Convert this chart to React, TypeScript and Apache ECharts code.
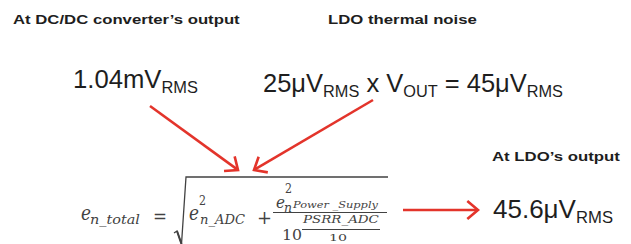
import React, { useEffect, useRef } from 'react';
import * as echarts from 'echarts';

// ---- content ----
const HEADERS = ['At DC/DC converter’s output', 'LDO thermal noise', 'At LDO’s output'];
const DCDC_NOISE: [string, 'main' | 'sub'][] = [['1.04mV', 'main'], ['RMS', 'sub']];
const LDO_NOISE: [string, 'main' | 'sub'][] = [
  ['25μV', 'main'], ['RMS', 'sub'], [' x V', 'main'], ['OUT', 'sub'], [' = 45μV', 'main'], ['RMS', 'sub'],
];
const LDO_OUTPUT: [string, 'main' | 'sub'][] = [['45.6μV', 'main'], ['RMS', 'sub']];
const FORMULA_PARTS = ['e', 'n_total', '=', 'e', '2', 'n_ADC', '+', 'e', '2', 'n', 'Power _Supply', '10', 'PSRR_ADC', '10'];

const RED = '#e3342b';
const INK = '#1e1e1e';
const MATH = '#424242';
const SANS = 'Liberation Sans';
const SERIF = 'DejaVu Serif';

const canvas = typeof document !== 'undefined' ? document.createElement('canvas') : null;
const ctx = canvas ? canvas.getContext('2d') : null;
function measure(text: string, font: string) {
  if (!ctx) return text.length * 8;
  ctx.font = font;
  return ctx.measureText(text).width;
}

type TOpts = { family?: string; weight?: string; style?: string; fill?: string; width?: number };
function txt(text: string, x: number, baseline: number, size: number, o: TOpts = {}) {
  const family = o.family || SANS;
  const weight = o.weight || 'normal';
  const fstyle = o.style || 'normal';
  const font = `${fstyle} ${weight} ${size}px "${family}"`;
  const w = measure(text, font);
  const sx = o.width ? o.width / w : 1;
  return {
    type: 'text',
    x,
    y: baseline - 0.35 * size,
    scaleX: sx,
    style: {
      text,
      fontSize: size,
      fontFamily: family,
      fontWeight: weight,
      fontStyle: fstyle,
      fill: o.fill || INK,
      align: 'left',
      verticalAlign: 'middle',
    },
  };
}

function expr(segs: [string, 'main' | 'sub'][], x: number, baseline: number, targetW: number) {
  const MAIN = 25, SUB = 16;
  const widths = segs.map(([t, k]) => measure(t, `normal normal ${k === 'main' ? MAIN : SUB}px "${SANS}"`));
  const total = widths.reduce((a, b) => a + b, 0);
  const s = targetW / total;
  let cx = x;
  return segs.map(([t, k], i) => {
    const el = txt(t, cx, k === 'main' ? baseline : baseline + 5, k === 'main' ? MAIN : SUB, {
      width: widths[i] * s,
    });
    cx += widths[i] * s;
    return el;
  });
}

function arrow(x1: number, y1: number, x2: number, y2: number) {
  const a = Math.atan2(y2 - y1, x2 - x1);
  const L = 14, t = 0.7;
  const p1 = [x2 - L * Math.cos(a - t), y2 - L * Math.sin(a - t)];
  const p2 = [x2 - L * Math.cos(a + t), y2 - L * Math.sin(a + t)];
  return [
    { type: 'line', shape: { x1, y1, x2: x2 - Math.cos(a), y2: y2 - Math.sin(a) }, style: { stroke: RED, lineWidth: 2.6 } },
    { type: 'polyline', shape: { points: [p1, [x2, y2], p2] }, style: { stroke: RED, lineWidth: 2.6, fill: 'none' } },
  ];
}

function buildElements() {
  const els: any[] = [];
  // headers
  els.push(txt(HEADERS[0], 13, 24, 13, { weight: 'bold', width: 227 }));
  els.push(txt(HEADERS[1], 328, 24, 13, { weight: 'bold', width: 149 }));
  els.push(txt(HEADERS[2], 492, 161, 13, { weight: 'bold', width: 128 }));
  // values
  els.push(...expr(DCDC_NOISE, 73, 88, 125));
  els.push(...expr(LDO_NOISE, 263, 92, 300));
  els.push(...expr(LDO_OUTPUT, 493, 218, 120));
  // arrows
  els.push(...arrow(150, 106, 238, 170));
  els.push(...arrow(373, 100, 254, 170));
  els.push(...arrow(403, 210, 478, 210));

  // formula
  const F = FORMULA_PARTS;
  const it = { family: SERIF, style: 'italic', fill: MATH };
  const up = { family: SERIF, fill: MATH };
  els.push(txt(F[0], 81, 220, 20, { ...it, width: 10 }));
  els.push(txt(F[1], 90, 224, 13, { ...it, width: 50 }));
  els.push(txt(F[2], 153, 223, 19, { ...up, width: 14 }));
  els.push(txt(F[3], 189, 220, 20, { ...it, width: 10 }));
  els.push(txt(F[4], 199, 205, 13, { ...up, width: 7 }));
  els.push(txt(F[5], 200, 224, 13, { ...it, width: 45 }));
  els.push(txt(F[6], 257, 224, 19, { ...up, width: 15 }));
  els.push(txt(F[7], 276, 208, 16, { ...it, width: 9 }));
  els.push(txt(F[8], 285, 193, 12, { ...up, width: 7 }));
  els.push(txt(F[9], 284, 212, 12, { ...it, width: 8 }));
  els.push(txt(F[10], 293, 208, 10, { ...it, width: 85 }));
  els.push(txt(F[11], 282, 240.5, 15, { ...up, width: 20 }));
  els.push(txt(F[12], 303, 223, 11, { ...it, width: 76 }));
  els.push(txt(F[13], 329, 241.5, 10, { ...up, width: 18 }));
  // fraction bars
  els.push({ type: 'line', shape: { x1: 273, y1: 212.5, x2: 387, y2: 212.5 }, style: { stroke: MATH, lineWidth: 1.2 } });
  els.push({ type: 'line', shape: { x1: 302, y1: 229.5, x2: 380, y2: 229.5 }, style: { stroke: MATH, lineWidth: 1 } });
  // radical
  els.push({
    type: 'polyline',
    shape: { points: [[174, 233], [177, 231], [181.5, 244], [186, 177], [388, 177]] },
    style: { stroke: MATH, lineWidth: 1.3, fill: 'none' },
  });
  els.push({ type: 'line', shape: { x1: 177, y1: 231, x2: 181.5, y2: 244 }, style: { stroke: MATH, lineWidth: 2 } });
  return els;
}

export default function App() {
  const ref = useRef<HTMLDivElement>(null);
  useEffect(() => {
    document.body.style.margin = '0';
    if (!ref.current) return;
    const chart = echarts.init(ref.current, undefined, { renderer: 'svg' });
    chart.setOption({
      animation: false,
      backgroundColor: '#ffffff',
      graphic: { elements: buildElements() },
    });
    return () => chart.dispose();
  }, []);
  return <div ref={ref} style={{ position: 'absolute', left: 0, top: 0, width: 631, height: 244, background: '#fff' }} />;
}
